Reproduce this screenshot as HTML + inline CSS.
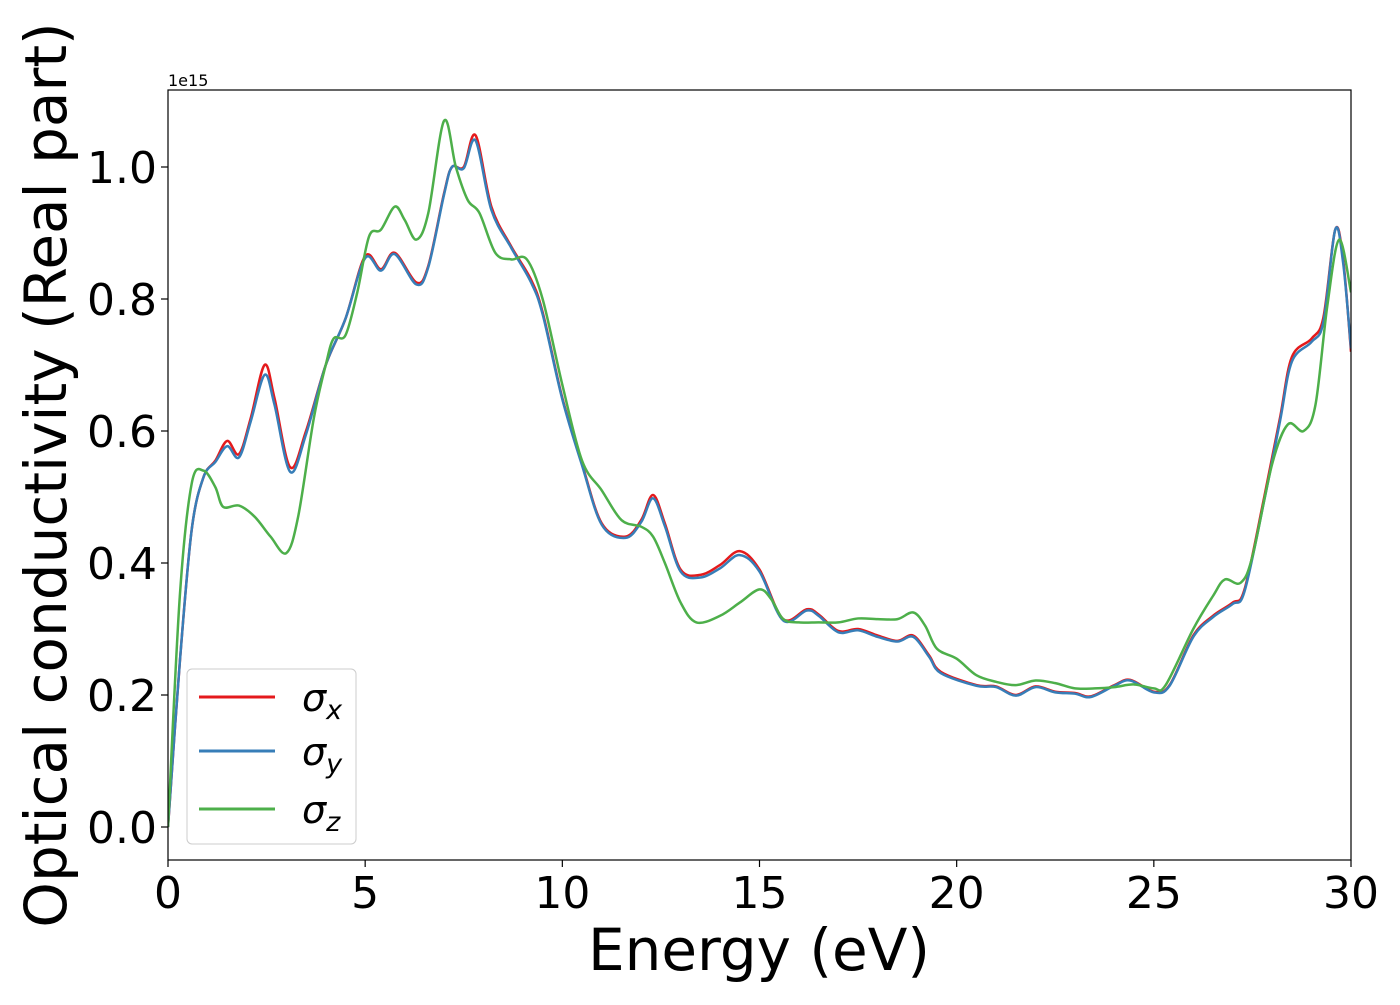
<!DOCTYPE html>
<html><head><meta charset="utf-8"><style>
body{margin:0;background:#fff;}
text{font-family:"DejaVu Sans","Liberation Sans",sans-serif;}
</style></head><body>
<svg id="chart" width="1400" height="1000" xmlns="http://www.w3.org/2000/svg">
<g id="axes"></g>
<g id="lines"></g>
<rect x="168" y="90" width="1183" height="770" fill="none" stroke="#000" stroke-width="1.2"/>
<text x="168" y="86" font-size="16">1e15</text>
<text x="759" y="970" font-size="58" text-anchor="middle">Energy (eV)</text>
<text transform="translate(66,475) rotate(-90)" font-size="58" text-anchor="middle">Optical conductivity (Real part)</text>
<g>
<rect x="187" y="669" width="169" height="175" rx="5" fill="#fff" fill-opacity="0.8" stroke="#ccc"/>
<line x1="199" y1="697" x2="275" y2="697" stroke="#e41a1c" stroke-width="3"/>
<line x1="199" y1="751" x2="275" y2="751" stroke="#377eb8" stroke-width="3"/>
<line x1="199" y1="809" x2="275" y2="809" stroke="#4daf4a" stroke-width="3"/>
<text x="302" y="711" font-size="38" font-style="italic">σ<tspan font-size="27" dy="8">x</tspan></text>
<text x="302" y="765" font-size="38" font-style="italic">σ<tspan font-size="27" dy="8">y</tspan></text>
<text x="302" y="823" font-size="38" font-style="italic">σ<tspan font-size="27" dy="8">z</tspan></text>
</g>
</svg>
<script>
const xTicks=[0,5,10,15,20,25,30];
const yTicks=[0.0,0.2,0.4,0.6,0.8,1.0];
const yTickLabels=["0.0","0.2","0.4","0.6","0.8","1.0"];
const energyX=[0,0.3,0.6,0.9,1.2,1.5,1.8,2.1,2.45,2.7,3.1,3.5,4.0,4.5,5.0,5.4,5.75,6.3,6.6,7.0,7.2,7.5,7.8,8.2,8.7,9.2,9.5,10,10.5,11,11.6,12,12.3,12.6,13,13.5,14,14.5,15,15.6,16.2,16.5,17,17.5,18,18.5,18.9,19.3,19.6,20.5,21,21.5,22,22.5,23,23.4,24,24.4,25,25.4,26,26.5,27,27.3,27.8,28.2,28.5,29,29.3,29.6,29.8,30];
const sigmaX=[0,0.25,0.45,0.53,0.555,0.585,0.565,0.62,0.70,0.65,0.545,0.6,0.70,0.77,0.865,0.845,0.87,0.825,0.85,0.96,1.0,1.0,1.048,0.94,0.88,0.83,0.78,0.65,0.55,0.46,0.44,0.465,0.503,0.46,0.39,0.382,0.397,0.418,0.39,0.315,0.33,0.322,0.297,0.3,0.29,0.282,0.29,0.26,0.235,0.215,0.213,0.2,0.213,0.205,0.203,0.198,0.215,0.223,0.205,0.215,0.29,0.32,0.34,0.36,0.5,0.62,0.712,0.74,0.772,0.905,0.86,0.72];
const sigmaY=[0,0.25,0.45,0.53,0.553,0.577,0.56,0.615,0.685,0.64,0.538,0.595,0.70,0.77,0.862,0.843,0.868,0.822,0.848,0.958,1.0,0.998,1.04,0.935,0.878,0.826,0.777,0.648,0.548,0.458,0.438,0.462,0.498,0.456,0.387,0.378,0.392,0.412,0.387,0.313,0.328,0.32,0.295,0.298,0.288,0.281,0.288,0.258,0.233,0.214,0.212,0.199,0.212,0.204,0.202,0.197,0.214,0.222,0.204,0.214,0.288,0.318,0.338,0.357,0.495,0.615,0.705,0.735,0.765,0.905,0.855,0.725];
const energyZ=[0,0.3,0.6,0.9,1.2,1.4,1.8,2.2,2.6,3.0,3.3,3.7,4.0,4.2,4.5,4.8,5.1,5.4,5.75,6.0,6.3,6.6,7.0,7.3,7.6,7.9,8.3,8.7,9.1,9.5,10,10.5,11,11.5,12,12.3,12.6,13,13.4,14,14.5,15,15.3,15.6,16,16.5,17,17.5,18,18.5,18.9,19.2,19.5,20,20.5,21,21.5,22,22.5,23,23.5,24,24.5,25,25.3,26,26.5,26.8,27.2,27.5,28,28.4,28.8,29.1,29.4,29.7,30];
const sigmaZ=[0,0.35,0.52,0.54,0.515,0.485,0.487,0.47,0.44,0.415,0.47,0.62,0.70,0.74,0.745,0.81,0.895,0.905,0.94,0.92,0.89,0.93,1.07,1.0,0.95,0.93,0.87,0.86,0.86,0.8,0.67,0.555,0.51,0.465,0.455,0.44,0.4,0.34,0.31,0.32,0.34,0.36,0.345,0.315,0.31,0.31,0.31,0.316,0.315,0.315,0.325,0.305,0.27,0.255,0.23,0.22,0.215,0.222,0.218,0.21,0.21,0.212,0.216,0.21,0.215,0.30,0.35,0.375,0.37,0.41,0.55,0.61,0.6,0.64,0.79,0.89,0.81];
const X=v=>168+v*(1183/30);
const Y=v=>827-v*660;
const NS="http://www.w3.org/2000/svg";
const axes=document.getElementById('axes');
function mk(t,a,p){const e=document.createElementNS(NS,t);for(const k in a)e.setAttribute(k,a[k]);p.appendChild(e);return e;}
xTicks.forEach(v=>{
 const l=mk('line',{x1:X(v),x2:X(v),y1:860,y2:867,stroke:'#000','stroke-width':1.2},axes);
 
 
 const t=mk('text',{x:X(v),y:908,'font-size':44,'text-anchor':'middle'},axes);t.textContent=v;
 
 
});
yTicks.forEach((v,i)=>{
 const l=mk('line',{x1:161,x2:168,y1:Y(v),y2:Y(v),stroke:'#000','stroke-width':1.2},axes);
 
 
 const t=mk('text',{x:157,y:Y(v)+16,'font-size':44,'text-anchor':'end'},axes);t.textContent=yTickLabels[i];
 
 
});
function path(xs,ys){
 const p=xs.map((x,i)=>[X(x),Y(ys[i])]);
 let d='M'+p[0][0]+','+p[0][1];
 for(let i=0;i<p.length-1;i++){
  const p0=p[Math.max(0,i-1)],p1=p[i],p2=p[i+1],p3=p[Math.min(p.length-1,i+2)];
  const c1=[p1[0]+(p2[0]-p0[0])/6,p1[1]+(p2[1]-p0[1])/6];
  const c2=[p2[0]-(p3[0]-p1[0])/6,p2[1]-(p3[1]-p1[1])/6];
  d+=`C${c1[0]},${c1[1]} ${c2[0]},${c2[1]} ${p2[0]},${p2[1]}`;
 }
 return d;
}
const lines=document.getElementById('lines');
const defs=mk('clipPath',{id:'clip'},lines);mk('rect',{x:168,y:90,width:1183,height:770},defs);
[[energyX,sigmaX,'#e41a1c','sigma-x-line'],[energyX,sigmaY,'#377eb8','sigma-y-line'],[energyZ,sigmaZ,'#4daf4a','sigma-z-line']].forEach(s=>{
 const e=mk('path',{d:path(s[0],s[1]),fill:'none',stroke:s[2],'stroke-width':2.5,'clip-path':'url(#clip)'},lines);
 
 
});
</script>
</body></html>
